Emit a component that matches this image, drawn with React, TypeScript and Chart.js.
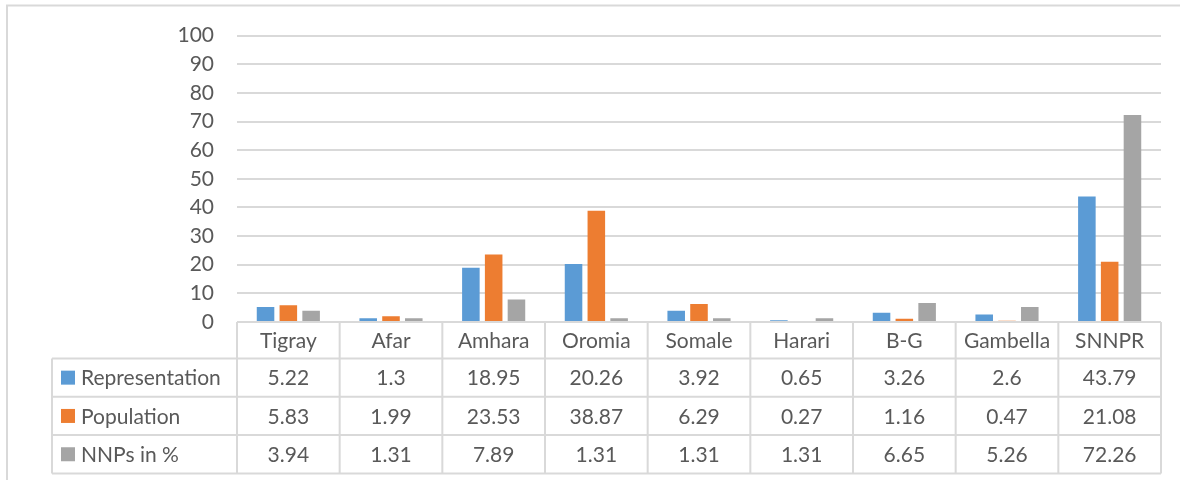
import React, { useEffect, useRef } from "react";
import { Chart, registerables } from "chart.js";

Chart.register(...registerables);

const categories = ["Tigray", "Afar", "Amhara", "Oromia", "Somale", "Harari", "B-G", "Gambella", "SNNPR"];
const representation = [5.22, 1.3, 18.95, 20.26, 3.92, 0.65, 3.26, 2.6, 43.79];
const population = [5.83, 1.99, 23.53, 38.87, 6.29, 0.27, 1.16, 0.47, 21.08];
const nnps = [3.94, 1.31, 7.89, 1.31, 1.31, 1.31, 6.65, 5.26, 72.26];
const seriesNames = ["Representation", "Population", "NNPs in %"];
const seriesColors = ["#5b9bd5", "#ed7d31", "#a5a5a5"];
const yMin = 0;
const yMax = 100;
const yStep = 10;

const FONT = "Lato, 'Open Sans', sans-serif";
const TEXT = "#595959";
const LINE = "#d9d9d9";

const tablePlugin = {
  id: "dataTable",
  beforeDraw(chart: any) {
    const ctx = chart.ctx;
    ctx.save();
    ctx.strokeStyle = LINE;
    ctx.lineWidth = 2;
    ctx.beginPath();
    ctx.moveTo(7, 480);
    ctx.lineTo(7, 5.5);
    ctx.lineTo(1180, 5.5);
    ctx.stroke();
    ctx.restore();
  },
  afterDraw(chart: any) {
    const ctx = chart.ctx;
    const x = chart.scales.x;
    const area = chart.chartArea;
    const half = (x.getPixelForValue(1) - x.getPixelForValue(0)) / 2;
    const left = x.getPixelForValue(0) - half;
    const right = x.getPixelForValue(categories.length - 1) + half;
    const legendLeft = 52;
    const top = area.bottom;
    const headerBottom = top + 36.5;
    const rowH = 38.3;
    const rows = [headerBottom, headerBottom + rowH, headerBottom + 2 * rowH, headerBottom + 3 * rowH];
    const data = [representation, population, nnps];

    ctx.save();
    ctx.strokeStyle = LINE;
    ctx.lineWidth = 2;
    ctx.beginPath();
    // header top
    ctx.moveTo(left, top);
    ctx.lineTo(right, top);
    // horizontal row lines
    rows.forEach((ry) => {
      ctx.moveTo(legendLeft, ry);
      ctx.lineTo(right, ry);
    });
    // legend column left
    ctx.moveTo(legendLeft, rows[0]);
    ctx.lineTo(legendLeft, rows[3]);
    // category column separators
    for (let i = 0; i <= categories.length; i++) {
      const cx = i < categories.length ? x.getPixelForValue(i) - half : right;
      ctx.moveTo(cx, top);
      ctx.lineTo(cx, rows[3]);
    }
    ctx.stroke();

    ctx.fillStyle = TEXT;
    ctx.font = `21px ${FONT}`;
    ctx.textAlign = "center";
    ctx.textBaseline = "middle";
    categories.forEach((c, i) => {
      ctx.fillText(c, x.getPixelForValue(i), (top + headerBottom) / 2 + 1);
    });
    data.forEach((arr, r) => {
      const cy = (rows[r] + rows[r + 1]) / 2 + 1;
      arr.forEach((v, i) => {
        ctx.fillText(String(v), x.getPixelForValue(i), cy);
      });
      ctx.fillStyle = seriesColors[r];
      ctx.fillRect(61, cy - 8, 14, 14);
      ctx.fillStyle = TEXT;
      ctx.textAlign = "left";
      ctx.fillText(seriesNames[r], 81, cy);
      ctx.textAlign = "center";
    });
    ctx.restore();
  },
};

export default function App() {
  const ref = useRef<HTMLCanvasElement>(null);
  useEffect(() => {
    if (!ref.current) return;
    const chart = new Chart(ref.current, {
      type: "bar",
      data: {
        labels: categories,
        datasets: [
          { label: seriesNames[0], data: representation, backgroundColor: seriesColors[0] },
          { label: seriesNames[1], data: population, backgroundColor: seriesColors[1] },
          { label: seriesNames[2], data: nnps, backgroundColor: seriesColors[2] },
        ],
      },
      options: {
        responsive: false,
        animation: false,
        layout: { padding: { left: 0, top: 34, right: 19, bottom: 158 } },
        datasets: { bar: { categoryPercentage: 0.666, barPercentage: 0.77 } },
        plugins: { legend: { display: false }, tooltip: { enabled: false } },
        scales: {
          x: { display: false },
          y: {
            min: yMin,
            max: yMax,
            afterFit: (s: any) => {
              s.width = 237;
            },
            ticks: {
              stepSize: yStep,
              padding: 23,
              color: TEXT,
              font: { family: FONT, size: 21 },
            },
            grid: { color: LINE, lineWidth: 2, drawTicks: false },
            border: { display: false },
          },
        },
      },
      plugins: [tablePlugin],
    });
    return () => chart.destroy();
  }, []);
  return (
    <div style={{ position: "absolute", left: 0, top: 0, width: 1180, height: 480, background: "#fff" }}>
      <canvas ref={ref} width={1180} height={480} style={{ display: "block" }} />
    </div>
  );
}
